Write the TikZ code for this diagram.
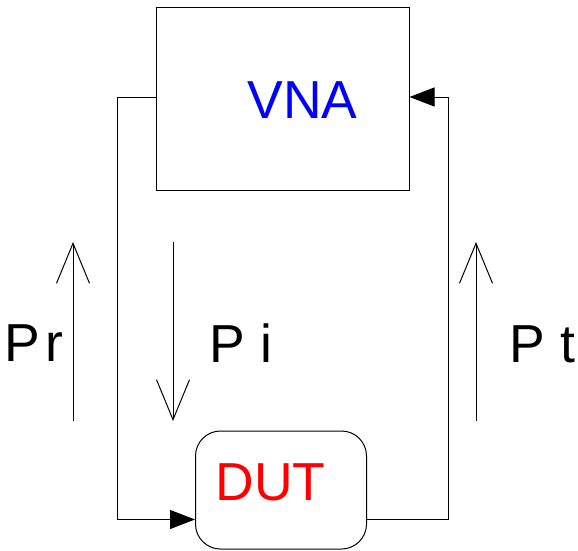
\documentclass[tikz,border=0pt]{standalone}
\usepackage{fontspec}
\setmainfont{Liberation Sans}
\usetikzlibrary{arrows.meta,calc}
\begin{document}
\begin{tikzpicture}[x=1pt,y=-1pt,
  line width=1pt,
  box/.style={draw, line width=1pt, inner sep=0pt},
  lbl/.style={inner sep=0pt, anchor=base west, font=\fontsize{53.5}{60}\selectfont},
  filltip/.style={-{Triangle[length=25pt,width=19pt]}},
  power/.style={-{Straight Barb[length=40pt,width=33pt]}}
]
\useasboundingbox (0,0) rectangle (578,551);
% boxes
\node[box, minimum width=253pt, minimum height=182pt] (vna) at (282.5,99) {};
\node[box, rounded corners=25pt, minimum width=171pt, minimum height=118pt] (dut) at (281,490) {};
% labels
\node[lbl, text=blue] (vnat) at (247,118) {VNA};
\node[lbl, text=red] (dutt) at (215,500) {DUT};
\node[lbl] (prt) at (4,361) {P\hspace{5pt}r};
\node[lbl] (pit) at (209,362) {P i};
\node[lbl] (ptt) at (509,362) {P t};
% connectors
\draw[filltip] ([yshift=2pt]vna.west) -- ++(-38,0) |- ([yshift=30pt]dut.south west);
\draw[filltip] ([yshift=30pt]dut.south east) -- ++(81,0) |- ([yshift=2pt]vna.east);
% power arrows
\coordinate (pra) at (73,421);
\coordinate (prb) at (73,242);
\coordinate (pia) at (173,242);
\coordinate (pib) at (173,421);
\coordinate (pta) at (476,421);
\coordinate (ptb) at (476,242);
\draw[power] (pra) -- (prb);
\draw[power] (pia) -- (pib);
\draw[power] (pta) -- (ptb);
\end{tikzpicture}
\end{document}
